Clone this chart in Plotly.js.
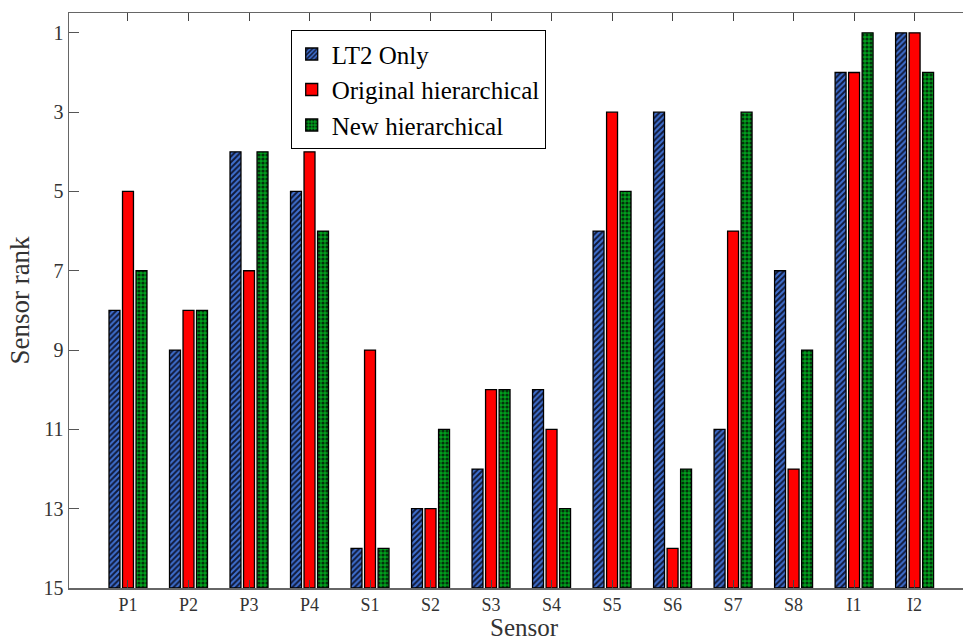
<!DOCTYPE html>
<html>
<head>
<meta charset="utf-8">
<script src="https://cdn.plot.ly/plotly-3.0.1.min.js"></script>
<style>html,body{margin:0;padding:0;background:#fff;}#chart{width:964px;height:641px;}</style>
</head>
<body>
<div id="chart"></div>
<script>
const sensors = ["P1","P2","P3","P4","S1","S2","S3","S4","S5","S6","S7","S8","I1","I2"];
const lt2Only = [8,9,4,5,14,13,12,10,6,3,11,7,2,1];
const originalHier = [5,8,7,4,9,13,10,11,3,14,6,12,2,1];
const newHier = [7,8,4,6,14,11,10,13,5,12,3,9,1,2];
const yTicks = [1,3,5,7,9,11,13,15];
const baseRank = 15;
const SERIF = '"Liberation Serif", "Times New Roman", serif';

function mk(name, vals, marker) {
  return {
    type: 'bar', name: name, x: sensors,
    y: vals.map(v => v - baseRank),
    base: vals.map(() => baseRank),
    marker: marker, hoverinfo: 'skip'
  };
}
const data = [
  mk('LT2 Only', lt2Only, {color: '#3d6dcc', line: {color: '#000', width: 1.3},
     pattern: {shape: '/', fgcolor: '#111a3a', bgcolor: '#3f70d0', size: 4, solidity: 0.5}}),
  mk('Original hierarchical', originalHier, {color: '#ff0000', line: {color: '#000', width: 1.3}}),
  mk('New hierarchical', newHier, {color: '#009a1a', line: {color: '#000', width: 1.3},
     pattern: {shape: '.', fgcolor: '#04300c', bgcolor: '#00a01c', size: 4, solidity: 0.5}})
];
const layout = {
  width: 964, height: 641,
  margin: {l: 69, r: 1, t: 13, b: 53},
  paper_bgcolor: '#fff', plot_bgcolor: '#fff',
  barmode: 'group', bargap: 0.33, bargroupgap: 0.19,
  font: {family: SERIF, color: '#333'},
  showlegend: true,
  legend: {x: 0.248, y: 0.97, xanchor: 'left', yanchor: 'top',
    bgcolor: '#fff', bordercolor: '#000', borderwidth: 1,
    font: {size: 25, color: '#000', family: SERIF}, itemwidth: 30, tracegroupgap: 0},
  xaxis: {
    type: 'category', range: [-0.975, 13.8],
    showline: true, linecolor: '#666', linewidth: 1.5, mirror: 'ticks',
    ticks: 'inside', ticklen: 8, tickcolor: '#444', tickwidth: 1,
    tickfont: {size: 18, color: '#333', family: SERIF},
    showgrid: false, zeroline: false
  },
  yaxis: {
    range: [15, 0.5], tickmode: 'array', tickvals: yTicks, ticktext: yTicks.map(String),
    showline: true, linecolor: '#666', linewidth: 1.5,
    ticks: 'inside', ticklen: 10, tickcolor: '#555', tickwidth: 1,
    tickfont: {size: 20, color: '#333', family: SERIF},
    title: {text: 'Sensor rank', font: {size: 27, color: '#333', family: SERIF}, standoff: 6},
    showgrid: false, zeroline: false
  },
  annotations: [{
    text: 'Sensor', xref: 'paper', yref: 'paper', x: 0.51, y: 0, yshift: -55,
    xanchor: 'center', yanchor: 'bottom', showarrow: false,
    font: {size: 25, color: '#333', family: SERIF}
  }]
};
Plotly.newPlot('chart', data, layout, {displayModeBar: false, staticPlot: true});
</script>
</body>
</html>
